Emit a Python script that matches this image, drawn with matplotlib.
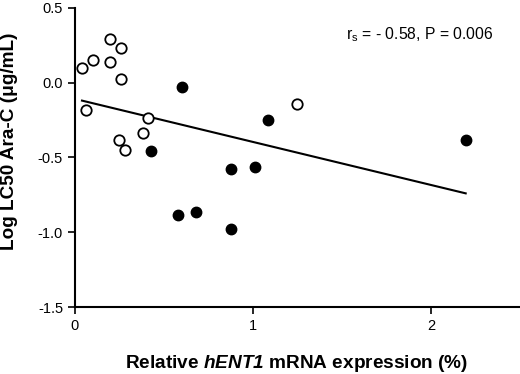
import numpy as np
import matplotlib.pyplot as plt

plt.rcParams['font.family'] = ['Liberation Sans', 'DejaVu Sans']
plt.rcParams['mathtext.fontset'] = 'custom'
plt.rcParams['mathtext.rm'] = 'Liberation Sans:bold:italic'
plt.rcParams['mathtext.it'] = 'Liberation Sans:bold:italic'
plt.rcParams['mathtext.sf'] = 'Liberation Sans'

# open circles
open_x = [0.04, 0.10, 0.20, 0.20, 0.26, 0.26, 0.06, 0.41, 0.38, 0.25, 0.28, 1.245]
open_y = [0.10, 0.15, 0.29, 0.135, 0.23, 0.025, -0.18, -0.235, -0.335, -0.38, -0.45, -0.145]

# filled circles
fill_x = [0.60, 0.43, 0.875, 1.01, 1.085, 2.195, 0.58, 0.68, 0.875]
fill_y = [-0.03, -0.46, -0.575, -0.565, -0.25, -0.38, -0.885, -0.865, -0.975]

# regression line ends
line_x = [0.04, 2.195]
line_y = [-0.12, -0.74]

fig = plt.figure(figsize=(5.2, 3.74), dpi=100)
ax = fig.add_axes([0.144, 0.179, 0.856, 0.800])

ax.plot(line_x, line_y, color="black", lw=1.5)
ax.plot(fill_x, fill_y, "o", color="black", ms=7.5, clip_on=False)
ax.plot(open_x, open_y, "o", mfc="white", mec="black", mew=1.3, ms=7.5, clip_on=False)

ax.set_xlim(0, 2.5)
ax.set_ylim(-1.5, 0.5)
ax.set_xticks([0, 1, 2])
ax.set_xticklabels(["0", "1", "2"])
ax.set_yticks([-1.5, -1.0, -0.5, 0.0, 0.5])
ax.set_yticklabels(["-1.5", "-1.0", "-0.5", "0.0", "0.5"])
ax.spines["top"].set_visible(False)
ax.spines["right"].set_visible(False)
ax.spines["left"].set_linewidth(1.5)
ax.spines["bottom"].set_linewidth(1.5)
ax.tick_params(direction="out", width=1.2, length=5, labelsize=10.5)

ax.set_xlabel("Relative $hENT1$ mRNA expression (%)", fontsize=13.7,
              fontweight="bold")
ax.xaxis.set_label_coords(0.499, -0.152)
ax.set_ylabel("Log LC50 Ara-C (\u03bcg/mL)", fontsize=13.7, fontweight="bold")
ax.yaxis.set_label_coords(-0.128, 0.555)

ax.text(1.52, 0.32, "r$_\\mathsf{s}$ = - 0.58, P = 0.006", fontsize=11.3, va="center")

plt.savefig("out.png")
